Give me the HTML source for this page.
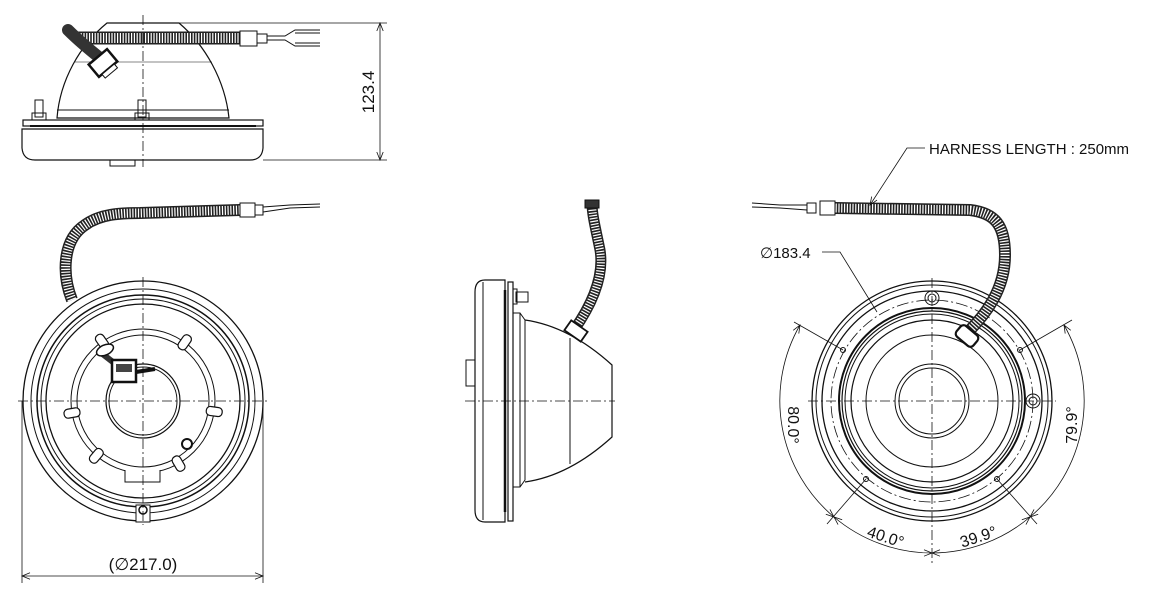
<!DOCTYPE html>
<html><head><meta charset="utf-8"><style>
html,body{margin:0;padding:0;background:#fff;}
svg{display:block;}
text{font-family:"Liberation Sans",sans-serif;fill:#111;}
</style></head><body>
<svg width="1168" height="597" viewBox="0 0 1168 597" xmlns="http://www.w3.org/2000/svg">
<defs>
<marker id="ar" viewBox="0 0 10 10" refX="10" refY="5" markerWidth="10" markerHeight="8" orient="auto-start-reverse" markerUnits="userSpaceOnUse">
<path d="M0,1 L10,5 L0,9" fill="none" stroke="#111" stroke-width="1"/>
</marker>
</defs>
<g fill="none" stroke="#111" stroke-width="1">

<!-- ===== TOP VIEW ===== -->
<path d="M57,118 C60,80 80,45 107,23 L179,23 C205,45 225,80 229,118 Z" stroke-width="1.2"/>
<line x1="57" y1="110" x2="229" y2="110"/>
<line x1="75" y1="62" x2="212" y2="62" stroke-width="0.6"/>
<rect x="23" y="120" width="240" height="6" stroke-width="1.2"/>
<line x1="30" y1="126" x2="256" y2="126" stroke-width="2"/>
<path d="M22,129 L263,129 L263,148 Q262,160 250,160 L35,160 Q23,160 22,148 Z" stroke-width="1.2"/>
<rect x="110" y="160" width="25" height="6"/>
<rect x="35" y="100" width="8" height="17"/><rect x="32" y="113" width="14" height="7"/>
<rect x="138" y="100" width="8" height="17"/><rect x="135" y="113" width="14" height="7"/>
<path d="M75,38 L240,38" stroke="#222" stroke-width="13"/>
<path d="M75,38 L240,38" stroke="#fff" stroke-width="10" stroke-dasharray="1.2 1.6"/>
<path d="M68,30 Q80,42 100,58" stroke="#333" stroke-width="12" stroke-linecap="round"/>
<g transform="translate(103,63) rotate(-40)"><rect x="-12" y="-8" width="24" height="16" stroke-width="2.5" fill="#fff"/><rect x="-8" y="8" width="16" height="5" fill="#fff"/></g>
<rect x="240" y="31" width="17" height="15" fill="#fff"/>
<rect x="257" y="34" width="10" height="9" fill="#fff"/>
<path d="M267,36 L285,36 L295,30 L320,30 M267,40 L285,40 L295,46 L320,46 M295,33 L320,33 M295,43 L320,43"/>
<line x1="143" y1="15" x2="143" y2="167" stroke-dasharray="10 3 2 3" stroke-width="0.8"/>
<line x1="179" y1="23" x2="387" y2="23" stroke-width="0.8"/>
<line x1="263" y1="160" x2="387" y2="160" stroke-width="0.8"/>
<line x1="380" y1="23" x2="380" y2="160" marker-start="url(#ar)" marker-end="url(#ar)" stroke-width="0.8"/>

<!-- ===== LEFT VIEW ===== -->
<circle cx="143" cy="401" r="120" stroke-width="1.3"/>
<circle cx="143" cy="401" r="112"/>
<circle cx="143" cy="401" r="106" stroke-width="1.5"/>
<circle cx="143" cy="401" r="102"/>
<circle cx="143" cy="401" r="97" stroke-width="1.3"/>
<circle cx="143" cy="401" r="72"/>
<circle cx="143" cy="401" r="66"/>
<circle cx="143" cy="401" r="37" stroke-width="1.2"/>
<circle cx="143" cy="401" r="34"/>
<g stroke-width="1.2" fill="#fff">
<rect x="-4" y="-80" width="9" height="16" rx="4" transform="translate(143,401) rotate(-35)"/>
<rect x="-4" y="-80" width="9" height="16" rx="4" transform="translate(143,401) rotate(35)"/>
<rect x="-4" y="-80" width="9" height="16" rx="4" transform="translate(143,401) rotate(-100)"/>
<rect x="-4" y="-80" width="9" height="16" rx="4" transform="translate(143,401) rotate(98)"/>
<rect x="-4" y="-80" width="9" height="16" rx="4" transform="translate(143,401) rotate(-140)"/>
<rect x="-4" y="-80" width="9" height="16" rx="4" transform="translate(143,401) rotate(150)"/>
</g>
<path d="M125,470 L125,482 L160,482 L160,470" fill="#fff"/>
<circle cx="187" cy="444" r="5" stroke-width="2"/>
<rect x="136" y="505" width="14" height="17" fill="#fff"/>
<circle cx="143" cy="510" r="4" stroke-width="1.5"/>
<path d="M118,366 L100,352" stroke="#333" stroke-width="6"/>
<ellipse cx="105" cy="350" rx="9" ry="5" transform="rotate(-25 105 350)" stroke-width="1.5" fill="#fff"/>
<rect x="112" y="360" width="24" height="22" stroke-width="2.5" fill="#fff"/>
<rect x="116" y="364" width="16" height="8" fill="#444" stroke="none"/>
<path d="M136,372 L155,369" stroke-width="4"/>
<path d="M72,300 C62,275 62,240 85,225 C100,214 120,213 140,213 L240,210" stroke="#222" stroke-width="12"/>
<path d="M72,300 C62,275 62,240 85,225 C100,214 120,213 140,213 L240,210" stroke="#fff" stroke-width="9" stroke-dasharray="1.2 1.6"/>
<rect x="240" y="203" width="15" height="14" fill="#fff"/>
<rect x="255" y="205" width="8" height="10" fill="#fff"/>
<path d="M263,207 L290,205 L320,204 M263,212 L290,208 L320,207"/>
<line x1="143" y1="277" x2="143" y2="525" stroke-dasharray="10 3 2 3" stroke-width="0.8"/>
<line x1="18" y1="401" x2="268" y2="401" stroke-dasharray="10 3 2 3" stroke-width="0.8"/>
<line x1="22" y1="401" x2="22" y2="583" stroke-width="0.8"/>
<line x1="263" y1="401" x2="263" y2="583" stroke-width="0.8"/>
<line x1="22" y1="576" x2="263" y2="576" marker-start="url(#ar)" marker-end="url(#ar)" stroke-width="0.8"/>

<!-- ===== MIDDLE VIEW ===== -->
<path d="M485,280 L505,280 L505,522 L485,522 Q475,522 475,510 L475,292 Q475,280 485,280 Z" stroke-width="1.2"/>
<line x1="483" y1="282" x2="483" y2="520"/>
<rect x="508" y="282" width="5" height="239" stroke-width="1.2"/>
<line x1="505" y1="290" x2="505" y2="512" stroke-width="2.5"/>
<rect x="466" y="360" width="9" height="26"/>
<rect x="516" y="292" width="12" height="10"/><rect x="513" y="289" width="4" height="15"/>
<path d="M513,313 L520,313 L525,320 L525,480 L520,487 L513,487"/>
<line x1="520" y1="313" x2="520" y2="487"/>
<path d="M525,320 C560,325 590,345 612,365 L612,437 C590,457 560,477 525,482" stroke-width="1.2"/>
<line x1="570" y1="338" x2="570" y2="464"/>
<path d="M574,330 C588,310 605,280 600,250 C596,230 592,215 592,203" stroke="#222" stroke-width="11"/>
<path d="M574,330 C588,310 605,280 600,250 C596,230 592,215 592,203" stroke="#fff" stroke-width="8" stroke-dasharray="1.2 1.6"/>
<g transform="translate(576,331) rotate(35)"><rect x="-10" y="-6" width="20" height="12" fill="#fff" stroke-width="1.8"/></g>
<rect x="585" y="200" width="14" height="8" fill="#333"/>
<line x1="465" y1="401" x2="615" y2="401" stroke-dasharray="10 3 2 3" stroke-width="0.8"/>

<!-- ===== RIGHT VIEW ===== -->
<circle cx="932" cy="401" r="120" stroke-width="1.3"/>
<circle cx="932" cy="401" r="116"/>
<circle cx="932" cy="401" r="110" stroke-width="1.3"/>
<circle cx="932" cy="401" r="101" stroke-dasharray="12 3 2 3" stroke-width="0.8"/>
<circle cx="932" cy="401" r="93" stroke-width="2"/>
<circle cx="932" cy="401" r="90" stroke-width="1.2"/>
<circle cx="932" cy="401" r="87"/>
<circle cx="932" cy="401" r="81" stroke-width="1.2"/>
<circle cx="932" cy="401" r="66"/>
<circle cx="932" cy="401" r="37"/>
<circle cx="932" cy="401" r="33"/>
<circle cx="932" cy="298" r="7"/><circle cx="932" cy="298" r="4"/>
<circle cx="1033" cy="401" r="7"/><circle cx="1033" cy="401" r="4"/>
<circle cx="843" cy="350" r="2.5"/><circle cx="1020" cy="350" r="2.5"/>
<circle cx="866" cy="479" r="2.5"/><circle cx="997" cy="479" r="2.5"/>
<path d="M968,332 C985,315 1005,290 1005,255 C1005,225 995,213 970,210 L835,208" stroke="#222" stroke-width="12"/>
<path d="M968,332 C985,315 1005,290 1005,255 C1005,225 995,213 970,210 L835,208" stroke="#fff" stroke-width="9" stroke-dasharray="1.2 1.6"/>
<g transform="translate(967,336) rotate(40)"><rect x="-11" y="-7" width="22" height="14" rx="4" fill="#fff" stroke-width="2.2"/></g>
<rect x="820" y="201" width="15" height="14" fill="#fff"/>
<rect x="807" y="203" width="9" height="10" fill="#fff"/>
<path d="M807,205 L780,205 L752,203 M807,210 L780,208 L752,207"/>
<line x1="932" y1="278" x2="932" y2="563" stroke-dasharray="10 3 2 3" stroke-width="0.8"/>
<line x1="808" y1="401" x2="1056" y2="401" stroke-dasharray="10 3 2 3" stroke-width="0.8"/>
<line x1="843" y1="350" x2="794" y2="322" stroke-width="0.8"/>
<line x1="1020" y1="350" x2="1072" y2="320" stroke-width="0.8"/>
<line x1="866" y1="479" x2="827" y2="524" stroke-width="0.8"/>
<line x1="997" y1="479" x2="1037" y2="524" stroke-width="0.8"/>
<path d="M800,325 A152,152 0 0 0 834,517" marker-start="url(#ar)" marker-end="url(#ar)" stroke-width="0.8"/>
<path d="M834,517 A152,152 0 0 0 932,553" marker-start="url(#ar)" marker-end="url(#ar)" stroke-width="0.8"/>
<path d="M932,553 A152,152 0 0 0 1030,517" marker-start="url(#ar)" marker-end="url(#ar)" stroke-width="0.8"/>
<path d="M1030,517 A152,152 0 0 0 1064,325" marker-start="url(#ar)" marker-end="url(#ar)" stroke-width="0.8"/>
<path d="M822,252 L840,252 L877,312" stroke-width="0.8"/>
<path d="M870,205 L907,148 L925,148" stroke-width="0.8" marker-start="url(#ar)"/>
</g>

<text font-size="17" transform="translate(374,92) rotate(-90)" text-anchor="middle">123.4</text>
<text x="143" y="570" font-size="17" text-anchor="middle">(∅217.0)</text>
<text x="760" y="258" font-size="15">∅183.4</text>
<text x="929" y="154" font-size="15">HARNESS LENGTH : 250mm</text>
<text font-size="16" text-anchor="middle" transform="translate(788,425) rotate(90)">80.0°</text>
<text font-size="16" text-anchor="middle" transform="translate(1077,425) rotate(-90)">79.9°</text>
<text font-size="16" text-anchor="middle" transform="translate(884,542) rotate(18)">40.0°</text>
<text font-size="16" text-anchor="middle" transform="translate(980,542) rotate(-18)">39.9°</text>
</svg>
</body></html>
